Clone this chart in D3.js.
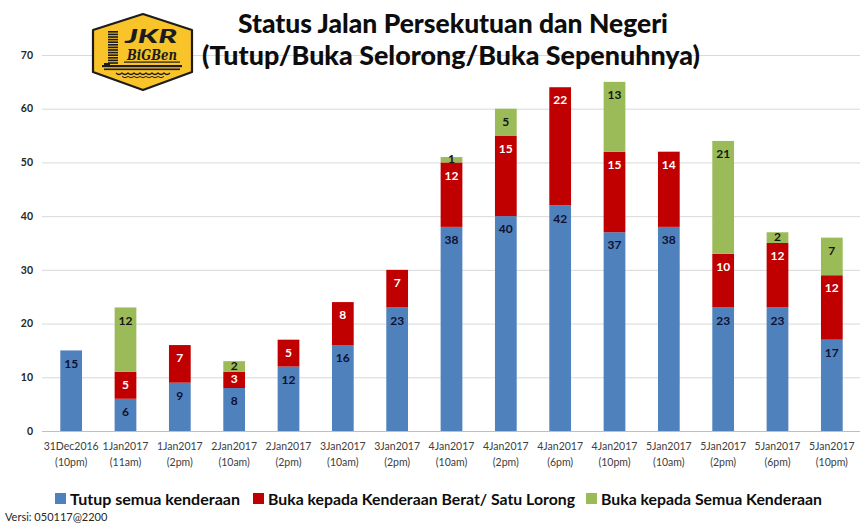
<!DOCTYPE html>
<html>
<head>
<meta charset="utf-8">
<script src="https://cdn.jsdelivr.net/npm/d3@7"></script>
<style>
  body { margin: 0; background: #fff; }
  svg { display: block; font-family: Lato, "Open Sans", sans-serif; }
</style>
</head>
<body>
<svg id="chart" width="868" height="528"></svg>
<script>
// chart data
const dates = ['31Dec2016', '1Jan2017', '1Jan2017', '2Jan2017', '2Jan2017', '3Jan2017', '3Jan2017',
  '4Jan2017', '4Jan2017', '4Jan2017', '4Jan2017', '5Jan2017', '5Jan2017', '5Jan2017', '5Jan2017'];
const times = ['(10pm)', '(11am)', '(2pm)', '(10am)', '(2pm)', '(10am)', '(2pm)',
  '(10am)', '(2pm)', '(6pm)', '(10pm)', '(10am)', '(2pm)', '(6pm)', '(10pm)'];
const tutup = [15, 6, 9, 8, 12, 16, 23, 38, 40, 42, 37, 38, 23, 23, 17];
const berat = [0, 5, 7, 3, 5, 8, 7, 12, 15, 22, 15, 14, 10, 12, 12];
const semua = [0, 12, 0, 2, 0, 0, 0, 1, 5, 0, 13, 0, 21, 2, 7];
const seriesNames = ['Tutup semua kenderaan', 'Buka kepada Kenderaan Berat/ Satu Lorong', 'Buka kepada Semua Kenderaan'];
const yTicks = [0, 10, 20, 30, 40, 50, 60, 70];

const colors = ['#4f81bd', '#c00000', '#9bbb59'];
const labelColors = ['#0f1033', '#ffffff', '#141414'];

const svg = d3.select('#chart');
svg.append('rect').attr('width', 868).attr('height', 528).attr('fill', '#fff');

const rows = dates.map((d, i) => ({key: i, date: d, time: times[i], tutup: tutup[i], berat: berat[i], semua: semua[i]}));
const keys = ['tutup', 'berat', 'semua'];

const x = d3.scaleBand().domain(rows.map(r => r.key)).range([44, 859]).paddingInner(0.6).paddingOuter(0.3);
const y = d3.scaleLinear().domain([0, 70]).range([431, 55]);

// gridlines
svg.append('g').selectAll('line').data(yTicks).join('line')
  .attr('x1', 42).attr('x2', 860)
  .attr('y1', d => y(d) + 0.5).attr('y2', d => y(d) + 0.5)
  .attr('stroke', d => d === 0 ? '#bfbfbf' : '#d9d9d9').attr('stroke-width', 1);

// y tick labels
svg.append('g').selectAll('text').data(yTicks).join('text')
  .attr('x', 33).attr('y', d => y(d)).attr('dy', '0.35em')
  .attr('text-anchor', 'end').attr('font-size', 10.5).attr('font-weight', 700).attr('fill', '#262626')
  .text(d => d);

// stacked bars
const stack = d3.stack().keys(keys)(rows);
const layers = svg.append('g').selectAll('g').data(stack).join('g')
  .attr('fill', (d, i) => colors[i]);

layers.selectAll('rect').data(d => d.filter(s => s[1] > s[0])).join('rect')
  .attr('x', d => x(d.data.key))
  .attr('width', x.bandwidth())
  .attr('y', d => y(d[1]))
  .attr('height', d => y(d[0]) - y(d[1]));

// data labels, inside end
stack.forEach((layer, i) => {
  svg.append('g').selectAll('text').data(layer.filter(s => s[1] > s[0])).join('text')
    .attr('x', d => x(d.data.key) + x.bandwidth() / 2)
    .attr('y', d => {
      const top = y(d[1]), h = y(d[0]) - y(d[1]);
      return h >= 18 ? top + 13 : top + h / 2 - 1;
    })
    .attr('dy', '0.35em')
    .attr('text-anchor', 'middle').attr('font-size', 12).attr('font-weight', 700)
    .attr('fill', labelColors[i])
    .text(d => d[1] - d[0]);
});

// x axis labels
const xl = svg.append('g').selectAll('text').data(rows).join('text')
  .attr('text-anchor', 'middle').attr('font-size', 10.5).attr('fill', '#404040');
xl.append('tspan').attr('x', d => x(d.key) + x.bandwidth() / 2).attr('y', 450).text(d => d.date);
xl.append('tspan').attr('x', d => x(d.key) + x.bandwidth() / 2).attr('y', 466).text(d => d.time);

// legend
const legendX = [55, 253, 586];
const legendW = [170, 307, 221];
const lg = svg.append('g').selectAll('g').data(seriesNames).join('g')
  .attr('transform', (d, i) => `translate(${legendX[i]},499)`);
lg.append('rect').attr('x', 0).attr('y', -6).attr('width', 11).attr('height', 11)
  .attr('fill', (d, i) => colors[i]);
lg.append('text').attr('x', 15).attr('dy', '0.35em')
  .attr('font-size', 16).attr('font-weight', 700).attr('fill', '#0d0d0d')
  .attr('textLength', (d, i) => legendW[i]).attr('lengthAdjust', 'spacingAndGlyphs')
  .text(d => d);

svg.append('text').attr('x', 5).attr('y', 521).attr('font-size', 11).attr('fill', '#262626')
  .text('Versi: 050117@2200');

// title
svg.append('text').attr('x', 453).attr('y', 33).attr('text-anchor', 'middle')
  .attr('font-size', 26).attr('font-weight', 900).attr('fill', '#0d0d0d')
  .attr('textLength', 430).attr('lengthAdjust', 'spacingAndGlyphs')
  .text('Status Jalan Persekutuan dan Negeri');
svg.append('text').attr('x', 451).attr('y', 65).attr('text-anchor', 'middle')
  .attr('font-size', 26).attr('font-weight', 900).attr('fill', '#0d0d0d')
  .attr('textLength', 498).attr('lengthAdjust', 'spacingAndGlyphs')
  .text('(Tutup/Buka Selorong/Buka Sepenuhnya)');

// logo
const logo = svg.append('g');
logo.append('path')
  .attr('d', 'M143,14 L192,30 L192,72 L143,90 L93,72 L93,30 Z')
  .attr('fill', '#f9c32a').attr('stroke', '#1c1c1c').attr('stroke-width', 2.2)
  .attr('stroke-linejoin', 'round');
logo.append('g').selectAll('rect').data(d3.range(31, 64, 2.6)).join('rect')
  .attr('x', 108).attr('y', d => d).attr('width', 10).attr('height', 1.6).attr('fill', '#1c1c1c');
logo.append('rect').attr('x', 104).attr('y', 63).attr('width', 6).attr('height', 3).attr('fill', '#1c1c1c');
logo.append('rect').attr('x', 102).attr('y', 65).attr('width', 80).attr('height', 2.2).attr('fill', '#1c1c1c');
logo.append('rect').attr('x', 104).attr('y', 68.5).attr('width', 76).attr('height', 1.6).attr('fill', '#1c1c1c');
logo.append('path')
  .attr('d', 'M116,73 q3,3 6,0 q3,3 6,0 q3,3 6,0 q3,3 6,0 q3,3 6,0 q3,3 6,0 q3,3 6,0 q3,3 6,0 q3,3 6,0')
  .attr('fill', 'none').attr('stroke', '#1c1c1c').attr('stroke-width', 1.2);
logo.append('path')
  .attr('d', 'M122,76.5 q3,2.5 6,0 q3,2.5 6,0 q3,2.5 6,0 q3,2.5 6,0 q3,2.5 6,0 q3,2.5 6,0 q3,2.5 6,0')
  .attr('fill', 'none').attr('stroke', '#1c1c1c').attr('stroke-width', 1);
logo.append('text').attr('x', 125).attr('y', 43).attr('font-size', 19).attr('font-weight', 900)
  .attr('font-style', 'italic').attr('fill', '#1c1c1c')
  .attr('textLength', 52).attr('lengthAdjust', 'spacingAndGlyphs').text('JKR');
logo.append('text').attr('x', 127).attr('y', 60).attr('font-size', 14).attr('font-weight', 700)
  .attr('font-style', 'italic').attr('fill', '#1c1c1c').attr('font-family', 'DejaVu Serif, serif')
  .attr('textLength', 50).attr('lengthAdjust', 'spacingAndGlyphs').text('BiGBen');
logo.append('rect').attr('x', 124).attr('y', 61.5).attr('width', 56).attr('height', 1.2).attr('fill', '#1c1c1c');
</script>
</body>
</html>
